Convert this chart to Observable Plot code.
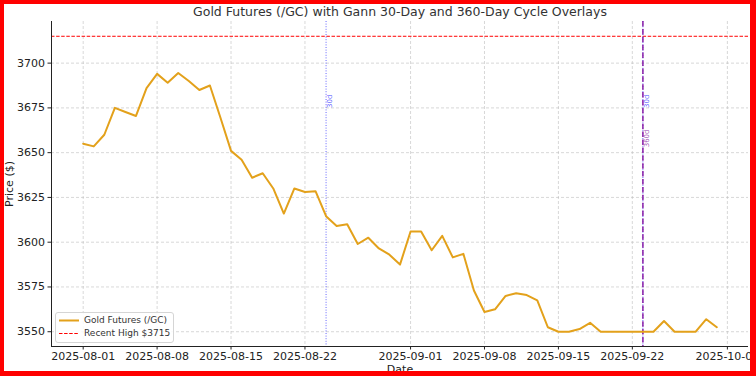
<!DOCTYPE html>
<html><head><meta charset="utf-8">
<script src="https://cdn.jsdelivr.net/npm/d3@7"></script>
<script src="https://cdn.jsdelivr.net/npm/@observablehq/plot@0.6"></script>
<style>
html,body{margin:0;padding:0;background:#fff;}
#wrap{position:relative;width:756px;height:376px;overflow:hidden;background:#fff;font-family:"DejaVu Sans",sans-serif;}
#title{position:absolute;left:51px;width:698px;top:3px;text-align:center;font-size:12.5px;line-height:18px;color:#333;white-space:nowrap;}
#title span{display:inline-block;}
#chart{position:absolute;left:0;top:16px;}
#legend{position:absolute;left:55px;top:312px;width:117px;height:29px;border:1px solid #d5d5d5;border-radius:3px;background:rgba(255,255,255,0.85);font-size:9px;color:#333;font-family:"DejaVu Sans",sans-serif;}
.row{position:absolute;left:0;height:13px;line-height:13px;white-space:nowrap;}
.row svg{position:absolute;left:3px;top:0;}
.row span{position:absolute;left:28px;top:0;}
#border{position:absolute;left:0;top:0;width:756px;height:376px;box-sizing:border-box;border-style:solid;border-color:#ff0000;border-width:4px 6px 5px 4px;pointer-events:none;}
</style></head>
<body><div id="wrap"><div id="title"><span></span></div><div id="chart"></div><div id="legend"></div><div id="border"></div></div>
<script>
const titleText = "Gold Futures (/GC) with Gann 30-Day and 360-Day Cycle Overlays";
const seriesName = "Gold Futures (/GC)";
const highLabel = "Recent High $3715";
const recentHigh = 3715;

const dates = [
  "2025-08-01","2025-08-02","2025-08-03","2025-08-04","2025-08-05","2025-08-06","2025-08-07","2025-08-08",
  "2025-08-09","2025-08-10","2025-08-11","2025-08-12","2025-08-13","2025-08-14","2025-08-15","2025-08-16",
  "2025-08-17","2025-08-18","2025-08-19","2025-08-20","2025-08-21","2025-08-22","2025-08-23","2025-08-24",
  "2025-08-25","2025-08-26","2025-08-27","2025-08-28","2025-08-29","2025-08-30","2025-08-31","2025-09-01",
  "2025-09-02","2025-09-03","2025-09-04","2025-09-05","2025-09-06","2025-09-07","2025-09-08","2025-09-09",
  "2025-09-10","2025-09-11","2025-09-12","2025-09-13","2025-09-14","2025-09-15","2025-09-16","2025-09-17",
  "2025-09-18","2025-09-19","2025-09-20","2025-09-21","2025-09-22","2025-09-23","2025-09-24","2025-09-25",
  "2025-09-26","2025-09-27","2025-09-28","2025-09-29","2025-09-30"
];
const prices = [
  3655, 3653.5, 3660, 3675, 3672.7, 3670.5, 3686, 3694,
  3689, 3694.5, 3690, 3685, 3687.5, 3669.5, 3651, 3646,
  3636, 3638.5, 3630, 3616, 3630, 3628, 3628.5, 3614.5,
  3609, 3610, 3599, 3602.5, 3596.5, 3593, 3587.5, 3606,
  3606, 3595.5, 3603.5, 3591.5, 3593.5, 3573, 3561, 3562.5,
  3570, 3571.5, 3570.5, 3567.5, 3552.5, 3550, 3550, 3551.5,
  3555, 3550, 3550, 3550, 3550, 3550, 3550, 3556,
  3550, 3550, 3550, 3557, 3552.5
];

const cycle30Dates = ["2025-08-24","2025-09-23"];
const cycle30Labels = ["30d","30d"];
const cycle30LabelY = [3675, 3675];
const cycle360Dates = ["2025-09-23"];
const cycle360Labels = ["360d"];
const cycle360LabelY = [3653];

const xTickDates = ["2025-08-01","2025-08-08","2025-08-15","2025-08-22","2025-09-01","2025-09-08","2025-09-15","2025-09-22","2025-10-01"];
const yTicks = [3550, 3575, 3600, 3625, 3650, 3675, 3700];
const xDomainDates = ["2025-07-29","2025-10-03"];
const yDomain = [3541.75, 3723.25];

const parse = d3.utcParse("%Y-%m-%d");
const data = dates.map((d, i) => ({date: parse(d), price: prices[i]}));
const c30 = cycle30Dates.map((d, i) => ({date: parse(d), label: cycle30Labels[i], y: cycle30LabelY[i]}));
const c360 = cycle360Dates.map((d, i) => ({date: parse(d), label: cycle360Labels[i], y: cycle360LabelY[i]}));
const xTicks = xTickDates.map(parse);
const xDomain = xDomainDates.map(parse);

const gold = "#e3a11b";
const gridStyle = {stroke: "#b8b8b8", strokeOpacity: 0.55, strokeDasharray: "3,2"};

const chart = Plot.plot({
  width: 756, height: 360,
  marginLeft: 51, marginRight: 8, marginTop: 5, marginBottom: 30,
  style: {fontFamily: "DejaVu Sans, sans-serif", color: "#222", background: "transparent"},
  x: {type: "utc", domain: xDomain},
  y: {domain: yDomain},
  marks: [
    Plot.gridY(yTicks, gridStyle),
    Plot.gridX(xTicks, gridStyle),
    Plot.ruleY([recentHigh], {stroke: "#ff0000", strokeWidth: 1, strokeDasharray: "3.5,1.6"}),
    Plot.ruleX(c30, {x: "date", stroke: "#0000ff", strokeOpacity: 0.6, strokeWidth: 1, strokeDasharray: "1,1.6"}),
    Plot.ruleX(c360, {x: "date", stroke: "#8a1fa6", strokeWidth: 1.5, strokeDasharray: "5.5,2.4"}),
    Plot.line(data, {x: "date", y: "price", stroke: gold, strokeWidth: 2}),
    Plot.text(c30, {x: "date", y: "y", text: "label", rotate: -90, textAnchor: "start", lineAnchor: "bottom", fontSize: 7, fill: "#0000ff", fillOpacity: 0.65, dx: 6}),
    Plot.text(c360, {x: "date", y: "y", text: "label", rotate: -90, textAnchor: "start", lineAnchor: "bottom", fontSize: 7, fill: "#8a1fa6", fillOpacity: 0.8, dx: 6}),
    Plot.axisY({ticks: yTicks, tickFormat: d => String(d), tickSize: 3.5, tickPadding: 3, fontSize: 11, label: "Price ($)", labelAnchor: "center", labelArrow: "none", labelOffset: 46}),
    Plot.axisX({ticks: xTicks, tickFormat: d3.utcFormat("%Y-%m-%d"), tickSize: 3.5, tickPadding: 2, fontSize: 11, label: "Date", labelAnchor: "center", labelArrow: "none", labelOffset: 26}),
    Plot.ruleX([xDomain[0]], {stroke: "#222", strokeWidth: 1}),
    Plot.ruleY([yDomain[0]], {stroke: "#222", strokeWidth: 1})
  ]
});
document.getElementById("chart").appendChild(chart);
document.querySelector("#title span").textContent = titleText;

const legend = document.getElementById("legend");
legend.innerHTML =
  `<div class="row" style="top:1px"><svg width="20" height="13"><line x1="0" x2="20" y1="6.5" y2="6.5" stroke="${gold}" stroke-width="2"/></svg><span></span></div>` +
  `<div class="row" style="top:14px"><svg width="20" height="13"><line x1="0" x2="20" y1="6.5" y2="6.5" stroke="#ff0000" stroke-width="1" stroke-dasharray="3.5,1.6"/></svg><span></span></div>`;
const spans = legend.querySelectorAll("span");
spans[0].textContent = seriesName;
spans[1].textContent = highLabel;
</script>
</body></html>
